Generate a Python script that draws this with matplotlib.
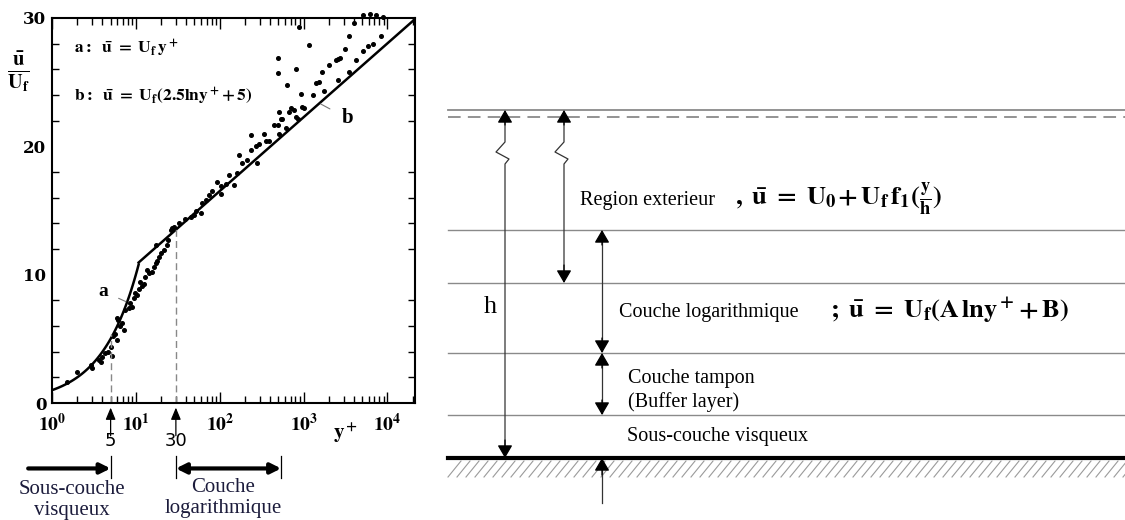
import matplotlib
matplotlib.use('Agg')
import matplotlib.pyplot as plt
import numpy as np
from matplotlib.ticker import FixedLocator, NullFormatter
from matplotlib.transforms import blended_transform_factory

plt.rcParams['mathtext.fontset'] = 'stix'

yplus_pts = [1.5, 2.0, 2.9, 3.0, 3.6, 3.9, 3.8, 4.3, 5.0, 5.2,
             4.7, 5.4, 5.7, 6.0, 6.2, 6.5, 6.0, 6.8, 7.2, 7.5,
             8.2, 9.0, 8.6, 9.4, 9.9, 10.3, 10.8, 11.8, 12.4, 11.3,
             13.0, 14.2, 15.6, 13.6, 16.4, 17.2, 17.9, 18.8, 19.7, 21.5,
             17.2, 23.6, 24.3, 25.9, 28.5,
             27, 32.5, 39, 45, 52, 49, 59, 62, 68, 74,
             81, 94, 103, 103, 118, 130, 147, 162, 170, 185,
             214, 235, 235, 270, 281, 293, 339, 355, 390, 445,
             490, 510, 560, 615, 675, 770, 850, 510,
             640, 490, 490, 810, 890, 1150, 710, 935, 810, 970,
             1010, 1290, 1400, 1540, 1680, 1760, 2030, 2460, 2560, 2690,
             2560, 3080, 3520, 3440, 4000, 4220, 5150, 5800, 6640, 5150,
             6150, 7350, 8850, 8400, 540]
u_pts = [1.6, 2.4, 3.0, 2.7, 3.35, 3.6, 3.2, 3.9, 4.4, 3.7,
         4.0, 5.2, 5.4, 4.9, 6.5, 6.0, 6.6, 6.2, 5.7, 7.25,
         7.4, 7.5, 7.8, 8.2, 8.55, 8.4, 8.9, 9.1, 9.3, 9.45,
         9.8, 10.1, 10.2, 10.4, 10.6, 10.9, 11.1, 11.4, 11.7, 11.9,
         12.3, 12.3, 12.7, 13.5, 13.7,
         13.6, 14.0, 14.3, 14.5, 15.0, 14.65, 14.8, 15.6, 15.8, 16.2,
         16.5, 17.25, 16.9, 16.3, 17.1, 17.8, 17.0, 17.9, 19.3, 18.7,
         18.9, 20.9, 19.7, 20.0, 18.7, 20.2, 21.0, 20.4, 20.4, 21.7,
         21.7, 21.0, 22.1, 21.4, 22.7, 22.8, 22.1, 22.7,
         24.8, 25.7, 26.9, 26.0, 29.3, 27.9, 23.0, 24.1, 22.3, 23.1,
         23.0, 24.0, 24.9, 25.0, 25.8, 24.3, 26.3, 26.7, 26.8, 26.9,
         25.2, 27.6, 28.6, 25.8, 29.6, 26.7, 27.4, 27.8, 28.0, 30.2,
         30.3, 30.2, 30.1, 28.6, 22.1]

x_ticks = [1, 10, 100, 1000, 10000]
x_labels = [r'$\mathbf{10^0}$', r'$\mathbf{10^1}$', r'$\mathbf{10^2}$', r'$\mathbf{10^3}$', r'$\mathbf{10^4}$']
y_ticks = [0, 10, 20, 30]
x_max = 21300
y_switch = 10.8     # where u=y+ meets the log law
marks_y = [5, 30]   # limits shown under the axis

serif = 'Liberation Serif'
navy = '#1c1c3c'

fig = plt.figure(figsize=(11.25, 5.2), dpi=100)

# ---------------- left: velocity profile -----------------
ax = fig.add_axes([52/1125, 117/520, 363/1125, 385/520])
ax.set_xscale('log')
ax.set_xlim(1, x_max)
ax.set_ylim(0, 30)

ya = np.logspace(0, np.log10(y_switch), 60)
yb = np.logspace(np.log10(y_switch), np.log10(x_max), 60)
ax.plot(ya, ya, color='black', lw=1.8)
ax.plot(yb, 2.5*np.log(yb) + 5, color='black', lw=1.8)
ax.plot(yplus_pts, u_pts, 'o', color='black', ms=2.6, clip_on=False)

ax.plot([5, 5], [0, 5.4], ls=(0, (5, 3)), color='#888888', lw=1)
ax.plot([30, 30], [0, 13.6], ls=(0, (5, 3)), color='#888888', lw=1)

ax.xaxis.set_major_locator(FixedLocator(x_ticks))
ax.set_xticklabels(x_labels, fontsize=14)
ax.yaxis.set_major_locator(FixedLocator(y_ticks))
ax.yaxis.set_minor_locator(FixedLocator(np.arange(0, 31, 2)))
ax.yaxis.set_minor_formatter(NullFormatter())
ax.set_yticklabels([str(t) for t in y_ticks], fontsize=12, family='DejaVu Serif', weight='bold')
ax.tick_params(which='both', direction='in', top=True, right=True, width=1)
ax.tick_params(which='major', length=8)
ax.tick_params(axis='x', which='major', pad=7)
ax.tick_params(which='minor', length=5)
ax.tick_params(axis='y', which='major', length=0, pad=4)
ax.tick_params(axis='y', which='minor', left=True, right=True)
for s in ax.spines.values():
    s.set_linewidth(1.5)

ax.text(0.06, 0.92, r'$\mathbf{a{:}\ \ \bar{u}\ =\ U_f\,y^+}$', transform=ax.transAxes,
        fontsize=12.5, va='center')
ax.text(0.06, 0.795, r'$\mathbf{b{:}\ \ \bar{u}\ =\ U_f(2.5lny^+\!+5)}$', transform=ax.transAxes,
        fontsize=12.5, va='center')
ax.annotate('a', xy=(7.6, 7.9), xytext=(4.1, 8.7), fontsize=14, family=serif, weight='bold',
            ha='center', va='center',
            arrowprops=dict(arrowstyle='-', color='#777777', lw=0.8, shrinkA=6, shrinkB=0))
ax.annotate('b', xy=(1600, 23.3), xytext=(3300, 22.2), fontsize=15, family=serif, weight='bold',
            ha='center', va='center',
            arrowprops=dict(arrowstyle='-', color='#777777', lw=0.8, shrinkA=7, shrinkB=0))

fig.text(18/1125, 1 - 72/520, r'$\frac{\mathbf{\bar{u}}}{\mathbf{U_f}}$', fontsize=21,
         ha='center', va='center')
fig.text(346/1125, 1 - 433/520, r'$\mathbf{y^+}$', fontsize=15, ha='center', va='center')

# marks under the axis
tr = blended_transform_factory(ax.transData, ax.transAxes)
for yv in marks_y:
    ax.annotate('', xy=(yv, -0.012), xytext=(yv, -0.085), xycoords=tr, textcoords=tr,
                arrowprops=dict(arrowstyle='-|>,head_length=0.6,head_width=0.25', color='black',
                                lw=0.9, shrinkA=0, shrinkB=0, mutation_scale=12))
    ax.text(yv, -0.1, str(yv), transform=tr, ha='center', va='center', fontsize=13, family='DejaVu Sans')
    ax.plot([yv, yv], [-0.138, -0.195], transform=tr, color='black', lw=0.9, clip_on=False)

ax.plot([540, 540], [-0.138, -0.195], transform=tr, color='black', lw=0.9, clip_on=False)
ax.annotate('', xy=(5, -0.17), xytext=(0.52, -0.17), xycoords=tr, textcoords=tr,
            arrowprops=dict(arrowstyle='-|>,head_length=0.6,head_width=0.3', color='black',
                            lw=3, shrinkA=0, shrinkB=0, mutation_scale=10))
ax.annotate('', xy=(540, -0.17), xytext=(30, -0.17), xycoords=tr, textcoords=tr,
            arrowprops=dict(arrowstyle='<|-|>,head_length=0.6,head_width=0.3', color='black',
                            lw=3, shrinkA=0, shrinkB=0, mutation_scale=10))
fig.text(72/1125, 1 - 489/520, 'Sous-couche', fontsize=15, family=serif, color=navy, ha='center', va='center')
fig.text(72/1125, 1 - 510/520, 'visqueux', fontsize=15, family=serif, color=navy, ha='center', va='center')
fig.text(223/1125, 1 - 487/520, 'Couche', fontsize=15, family=serif, color=navy, ha='center', va='center')
fig.text(223/1125, 1 - 509/520, 'logarithmique', fontsize=15, family=serif, color=navy, ha='center', va='center')

# ---------------- right: layer sketch -----------------
sk = fig.add_axes([0, 0, 1, 1])
sk.set_xlim(0, 1125)
sk.set_ylim(520, 0)
sk.axis('off')
sk.patch.set_visible(False)

x0, x1 = 448, 1125
sk.plot([x0, x1], [110, 110], color='#8a8a8a', lw=1.3)
sk.plot([x0, x1], [117, 117], color='#8a8a8a', lw=1.3, ls=(0, (7, 4)))
for yl in [230, 283, 353, 415]:
    sk.plot([x0, x1], [yl, yl], color='#8a8a8a', lw=1)
sk.plot([x0, x1], [458, 458], color='black', lw=3)
for xh in np.arange(x0, x1, 9):
    sk.plot([xh, xh + 13], [477, 461], color='#9a9a9a', lw=0.8)

def head(x, y_tip, y_from):
    sk.annotate('', xy=(x, y_tip), xytext=(x, y_from),
                arrowprops=dict(arrowstyle='-|>,head_length=0.6,head_width=0.35', color='black',
                                lw=0.9, shrinkA=0, shrinkB=0, mutation_scale=13))

def zig_line(x, y_top, y_bot):
    xs = [x, x, x - 9, x + 4, x, x]
    ys = [y_top, 142, 152, 159, 164, y_bot]
    sk.plot(xs, ys, color='#333333', lw=0.9)

zig_line(505, 112, 456)
head(505, 110, 125)
head(505, 458, 440)
zig_line(564, 112, 281)
head(564, 110, 125)
head(564, 283, 265)

sk.plot([602, 602], [232, 351], color='#333333', lw=0.9)
head(602, 230, 245)
head(602, 353, 338)
sk.plot([602, 602], [355, 413], color='#333333', lw=0.9)
head(602, 353, 368)
head(602, 415, 400)
sk.plot([602, 602], [460, 503], color='#333333', lw=0.9)
head(602, 458, 475)

sk.text(490, 307, 'h', fontsize=19, family=serif, ha='center', va='center')
sk.text(580, 200, 'Region exterieur', fontsize=14.5, family=serif, va='center')
sk.text(735, 199, r'$\mathbf{,\ \bar{u}\ =\ U_0\!+U_f\,f_1(\frac{y}{h})}$', fontsize=19, va='center')
sk.text(619, 312, 'Couche logarithmique', fontsize=14.5, family=serif, va='center')
sk.text(830, 310, r'$\mathbf{;\ \bar{u}\ =\ U_f(A\,lny^+\!+B)}$', fontsize=19, va='center')
sk.text(628, 379, 'Couche tampon', fontsize=14.5, family=serif, va='center')
sk.text(628, 402, '(Buffer layer)', fontsize=14.5, family=serif, va='center')
sk.text(627, 437, 'Sous-couche visqueux', fontsize=14.5, family=serif, va='center')

fig.savefig('out.png', dpi=100)
